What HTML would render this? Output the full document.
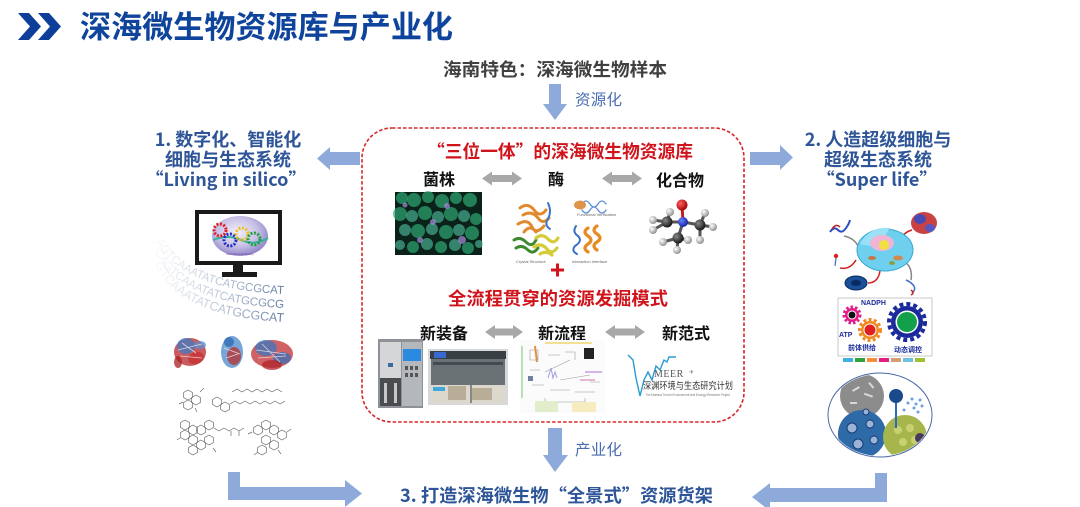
<!DOCTYPE html>
<html><head><meta charset="utf-8">
<style>
html,body{margin:0;padding:0;background:#fff;}
body{width:1080px;height:507px;overflow:hidden;}
svg{display:block;}
</style></head>
<body>
<svg width="1080" height="507" viewBox="0 0 1080 507" xmlns="http://www.w3.org/2000/svg" font-family="'Liberation Sans','Noto Sans CJK SC',sans-serif">
<defs>
  <polygon id="hx" points="0,-5 4.33,-2.5 4.33,2.5 0,5 -4.33,2.5 -4.33,-2.5" fill="none" stroke="#6a6a6a" stroke-width="0.7"/>
  <linearGradient id="dnag" gradientUnits="userSpaceOnUse" x1="160" y1="0" x2="285" y2="0">
    <stop offset="0" stop-color="#9fb0c8" stop-opacity="0.1"/>
    <stop offset="0.45" stop-color="#8a9fbc" stop-opacity="0.55"/>
    <stop offset="1" stop-color="#5f7aa0" stop-opacity="1"/>
  </linearGradient>
  <radialGradient id="ellg" cx="0.45" cy="0.4" r="0.6">
    <stop offset="0" stop-color="#f4f0fa"/>
    <stop offset="0.6" stop-color="#c8c0e6"/>
    <stop offset="1" stop-color="#8f86c8"/>
  </radialGradient>
  <radialGradient id="balC" cx="0.35" cy="0.35" r="0.7"><stop offset="0" stop-color="#8a8a8a"/><stop offset="1" stop-color="#111"/></radialGradient>
  <radialGradient id="balH" cx="0.35" cy="0.35" r="0.7"><stop offset="0" stop-color="#ffffff"/><stop offset="1" stop-color="#8c8c8c"/></radialGradient>
  <radialGradient id="balO" cx="0.35" cy="0.35" r="0.7"><stop offset="0" stop-color="#ff6060"/><stop offset="1" stop-color="#a00000"/></radialGradient>
  <radialGradient id="balN" cx="0.35" cy="0.35" r="0.7"><stop offset="0" stop-color="#6a80ff"/><stop offset="1" stop-color="#1020a0"/></radialGradient>
  <clipPath id="mclip"><ellipse cx="880" cy="415" rx="51" ry="41"/></clipPath>
  <path id="dp1" d="M155,240 Q180,290 284,294"/>
  <path id="dp2" d="M155,252 Q178,303 284,308"/>
  <path id="dp3" d="M155,264 Q176,316 284,322"/>
</defs>

<!-- Title -->
<polygon points="18,13 29,13 41,26.5 29,40 18,40 30,26.5" fill="#0d3f9a"/>
<polygon points="38,13 49,13 61,26.5 49,40 38,40 50,26.5" fill="#0d3f9a"/>
<text x="80" y="38" font-size="31" font-weight="bold" fill="#0f449c" font-family="'Noto Sans CJK SC',sans-serif" textLength="373" lengthAdjust="spacingAndGlyphs">深海微生物资源库与产业化</text>

<!-- top source -->
<text x="443" y="76" font-size="18" font-weight="bold" fill="#404040" font-family="'Noto Sans CJK SC',sans-serif" textLength="224" lengthAdjust="spacingAndGlyphs">海南特色：深海微生物样本</text>
<polygon points="549,84 561,84 561,104 567,104 555,120 543,104 549,104" fill="#8eaadb"/>
<text x="575" y="105" font-size="15.5" fill="#4a6db0" font-family="'Noto Sans CJK SC',sans-serif" textLength="47">资源化</text>

<!-- red dashed box -->
<rect x="362" y="128" width="382" height="294" rx="30" ry="30" fill="none" stroke="#d8262c" stroke-width="1.6" stroke-dasharray="3.5 2"/>

<text x="427" y="158" font-size="18" font-weight="bold" fill="#d0141c" font-family="'Noto Sans CJK SC',sans-serif" textLength="266" lengthAdjust="spacingAndGlyphs">“三位一体”的深海微生物资源库</text>

<text x="423" y="185" font-size="16" font-weight="bold" fill="#111" font-family="'Noto Sans CJK SC',sans-serif">菌株</text>
<text x="548" y="185" font-size="16" font-weight="bold" fill="#111" font-family="'Noto Sans CJK SC',sans-serif">酶</text>
<text x="656" y="186" font-size="16" font-weight="bold" fill="#111" font-family="'Noto Sans CJK SC',sans-serif">化合物</text>

<polygon points="482,178.5 492,171.5 492,175 512,175 512,171.5 522,178.5 512,185.5 512,182 492,182 492,185.5" fill="#a8a8a8"/>
<polygon points="602,178.5 612,171.5 612,175 632,175 632,171.5 642,178.5 632,185.5 632,182 612,182 612,185.5" fill="#a8a8a8"/>

<!-- green cells image -->
<rect x="395" y="192" width="87" height="63" fill="#0a2219"/>
<g fill="#2ea774" fill-opacity="0.7">
  <circle cx="402" cy="198" r="6"/><circle cx="414" cy="200" r="7"/><circle cx="428" cy="197" r="6"/><circle cx="442" cy="201" r="7"/><circle cx="456" cy="198" r="6"/><circle cx="470" cy="200" r="7"/>
  <circle cx="400" cy="214" r="7"/><circle cx="425" cy="213" r="7"/><circle cx="451" cy="214" r="7"/><circle cx="476" cy="219" r="6"/>
  <circle cx="418" cy="231" r="7"/><circle cx="446" cy="232" r="7"/><circle cx="472" cy="233" r="7"/>
  <circle cx="413" cy="247" r="6"/><circle cx="441" cy="247" r="6"/><circle cx="468" cy="248" r="6"/>
</g>
<g fill="#52c4a4" fill-opacity="0.6">
  <circle cx="412" cy="216" r="6"/><circle cx="438" cy="217" r="6"/><circle cx="464" cy="216" r="6"/>
  <circle cx="405" cy="230" r="6"/><circle cx="432" cy="229" r="6"/><circle cx="459" cy="230" r="6"/>
  <circle cx="400" cy="245" r="5"/><circle cx="427" cy="244" r="6"/><circle cx="455" cy="245" r="6"/><circle cx="479" cy="244" r="4"/>
</g>
<g fill="#a88ae0" fill-opacity="0.7">
  <circle cx="433" cy="222" r="3"/><circle cx="462" cy="240" r="4"/><circle cx="420" cy="240" r="3"/><circle cx="447" cy="206" r="3"/><circle cx="405" cy="205" r="2.5"/>
</g>

<!-- enzyme image -->
<g fill="none" stroke-linecap="round">
  <path d="M520,208 q8,-6 14,2 q6,8 12,0 M523,215 q9,-5 15,3 q5,7 11,0 M518,224 q10,-6 14,3 q4,8 12,-1 M524,232 q6,-8 12,0" stroke="#e08a2c" stroke-width="3"/>
  <path d="M548,203 q4,8 0,16 q-4,6 2,10" stroke="#3a78c8" stroke-width="2"/>
  <path d="M514,240 q6,-4 12,2 q6,6 10,-2 M516,248 q6,-4 12,2 q5,5 10,-2" stroke="#3f8a30" stroke-width="3"/>
  <path d="M536,238 q6,-5 12,1 q6,6 10,-1 M534,247 q7,-5 13,2 q5,6 10,-1 M540,254 q6,-4 12,1" stroke="#d6cc3a" stroke-width="3.2"/>
  <path d="M582,204 q4,-6 8,0 q4,6 8,0 q4,-6 8,0 M582,210 q4,6 8,0 q4,-6 8,0 q4,6 8,0" stroke="#5a8ed0" stroke-width="1.3"/>
  <path d="M588,228 q-6,4 0,8 q6,4 0,8 q-6,4 0,8 M597,226 q-6,4 0,8 q6,4 0,8 q-6,4 0,8" stroke="#e88a20" stroke-width="3.2"/>
  <path d="M576,226 q-4,6 2,10 q5,5 -3,10 q-4,5 2,8" stroke="#3a70c0" stroke-width="2"/>
</g>
<ellipse cx="580" cy="205" rx="6" ry="4.5" fill="#e0944a"/>
<text x="516" y="263" font-size="4" fill="#666">Crystal Structure</text>
<text x="577" y="216" font-size="4" fill="#666">Functional Verification</text>
<text x="572" y="263" font-size="4" fill="#666">Interaction Interface</text>

<!-- molecule -->
<g stroke="#555" stroke-width="3">
  <line x1="683" y1="222" x2="682" y2="205" stroke="#c02020"/>
  <line x1="683" y1="222" x2="667" y2="222"/><line x1="683" y1="222" x2="700" y2="225"/><line x1="683" y1="222" x2="678" y2="238"/>
  <line x1="667" y1="222" x2="653" y2="220"/><line x1="667" y1="222" x2="670" y2="212"/><line x1="667" y1="222" x2="653" y2="230"/>
  <line x1="678" y1="238" x2="663" y2="242"/><line x1="678" y1="238" x2="677" y2="250"/><line x1="678" y1="238" x2="688" y2="240"/>
  <line x1="700" y1="225" x2="705" y2="213"/><line x1="700" y1="225" x2="713" y2="227"/><line x1="700" y1="225" x2="700" y2="240"/>
</g>
<g>
  <circle cx="653" cy="220" r="4" fill="url(#balH)"/><circle cx="670" cy="212" r="4" fill="url(#balH)"/><circle cx="653" cy="230" r="4" fill="url(#balH)"/>
  <circle cx="705" cy="213" r="4" fill="url(#balH)"/><circle cx="713" cy="227" r="4" fill="url(#balH)"/>
  <circle cx="667" cy="222" r="5.5" fill="url(#balC)"/><circle cx="700" cy="225" r="5.5" fill="url(#balC)"/>
  <circle cx="683" cy="222" r="5" fill="url(#balN)"/>
  <circle cx="682" cy="205" r="5.5" fill="url(#balO)"/>
  <circle cx="700" cy="240" r="4" fill="url(#balH)"/><circle cx="688" cy="240" r="4" fill="url(#balH)"/>
  <circle cx="678" cy="238" r="5.5" fill="url(#balC)"/>
  <circle cx="663" cy="242" r="4" fill="url(#balH)"/><circle cx="677" cy="250" r="4" fill="url(#balH)"/>
</g>

<!-- plus -->
<path d="M551,270 h13 M557.5,263.5 v13" stroke="#d0141c" stroke-width="3"/>
<text x="448" y="305" font-size="18" font-weight="bold" fill="#d0141c" font-family="'Noto Sans CJK SC',sans-serif" textLength="220" lengthAdjust="spacingAndGlyphs">全流程贯穿的资源发掘模式</text>

<text x="420" y="339" font-size="16" font-weight="bold" fill="#111" font-family="'Noto Sans CJK SC',sans-serif">新装备</text>
<text x="538" y="339" font-size="16" font-weight="bold" fill="#111" font-family="'Noto Sans CJK SC',sans-serif">新流程</text>
<text x="662" y="339" font-size="16" font-weight="bold" fill="#111" font-family="'Noto Sans CJK SC',sans-serif">新范式</text>
<polygon points="485,332 495,325 495,328.5 513,328.5 513,325 523,332 513,339 513,335.5 495,335.5 495,339" fill="#a8a8a8"/>
<polygon points="605,332 615,325 615,328.5 635,328.5 635,325 645,332 635,339 635,335.5 615,335.5 615,339" fill="#a8a8a8"/>

<!-- equipment 1 -->
<rect x="378" y="339" width="45" height="69" fill="#8e9296"/>
<rect x="380" y="342" width="21" height="36" fill="#d4d6d8"/>
<rect x="380" y="378" width="21" height="28" fill="#4a4d50"/>
<rect x="384" y="383" width="3" height="20" fill="#c8c8c8"/><rect x="394" y="383" width="3" height="20" fill="#c8c8c8"/>
<rect x="388" y="363" width="5" height="4" fill="#3a6aa0"/>
<rect x="402" y="342" width="20" height="64" fill="#b4b8bc"/>
<rect x="403" y="349" width="18" height="12" fill="#2a8ae0"/>
<g fill="#555"><rect x="405" y="366" width="3" height="4"/><rect x="410" y="366" width="3" height="4"/><rect x="415" y="366" width="3" height="4"/><rect x="405" y="373" width="3" height="4"/><rect x="410" y="373" width="3" height="4"/><rect x="415" y="373" width="3" height="4"/></g>

<!-- equipment 2 -->
<rect x="428" y="349" width="80" height="56" fill="#d6d8da"/>
<rect x="430" y="351" width="76" height="8" fill="#3a3f44"/>
<rect x="434" y="352" width="12" height="6" fill="#3a6ad0"/>
<rect x="431" y="359" width="74" height="26" fill="#6a7276"/>
<rect x="433" y="362" width="70" height="3" fill="#444b50"/>
<rect x="431" y="385" width="74" height="18" fill="#dcd8cc"/>
<rect x="433" y="387" width="12" height="4" fill="#40a8e0"/>
<g fill="#b8ae98"><rect x="448" y="386" width="18" height="14"/><rect x="472" y="388" width="20" height="12"/></g>
<rect x="470" y="385" width="2" height="18" fill="#888"/>

<!-- flowchart -->
<rect x="520" y="340" width="85" height="73" fill="#fbfbfb"/>
<g stroke="#9a9a9a" stroke-width="0.6" fill="none">
  <line x1="522" y1="346" x2="522" y2="398" stroke="#7ac070" stroke-width="1"/>
  <line x1="545" y1="343" x2="592" y2="343" stroke="#f0d870" stroke-width="1.5"/>
  <path d="M530,350 h8 v10 h-8z M548,355 h12 M565,352 h10 v8 M530,370 h10 M545,372 l25,-12 M560,380 l30,-5 M532,385 h12 M550,390 h20 M575,392 h20 M590,382 h10 M545,398 v4 h40 v-4"/>
  <rect x="584" y="348" width="10" height="11" fill="#222" stroke="none"/>
  <line x1="585" y1="372" x2="602" y2="372" stroke="#c0a0e0" stroke-width="1.5"/>
  <line x1="580" y1="380" x2="595" y2="380" stroke="#e0a0c0" stroke-width="1.5"/>
  <line x1="535" y1="346" x2="537" y2="362" stroke="#e09040" stroke-width="2"/>
</g>
<rect x="535" y="401" width="23" height="11" fill="#e2edcc"/>
<rect x="572" y="402" width="24" height="10" fill="#f6ecc0"/>
<path d="M548,378 l3,-10 l2,10 l2,-6 l2,6" stroke="#a0a0e0" fill="none" stroke-width="1"/>
<rect x="528" y="376" width="5" height="5" fill="#7080a0"/>

<!-- MEER logo -->
<path d="M628,355 L633,360 L636,378 L640,396 L644,380 L648,372 L652,380 L656,366 L660,370 L664,360 L667,362 L669,357 L676,357" fill="none" stroke="#2a9ad0" stroke-width="1.4"/>
<text x="654" y="377" font-size="10" fill="#555" font-family="'Liberation Serif',serif" letter-spacing="0.5">MEER</text>
<text x="689" y="374" font-size="6" fill="#777">✈</text>
<text x="643" y="389" font-size="9.5" fill="#333" font-family="'Noto Sans CJK SC',sans-serif" textLength="90" lengthAdjust="spacingAndGlyphs">深渊环境与生态研究计划</text>
<text x="645" y="396" font-size="3.5" fill="#888" textLength="85">The Mariana Trench Environment and Ecology Research Project</text>

<!-- bottom down arrow -->
<polygon points="548,428 562,428 562,455 568,455 555,472 543,455 548,455" fill="#8eaadb"/>
<text x="575" y="455" font-size="15.5" fill="#4a6db0" font-family="'Noto Sans CJK SC',sans-serif" textLength="47">产业化</text>

<text x="400" y="502" font-size="18" font-weight="bold" fill="#2e5597" font-family="'Noto Sans CJK SC',sans-serif" textLength="313" lengthAdjust="spacingAndGlyphs">3. 打造深海微生物“全景式”资源货架</text>

<!-- left heading -->
<g font-size="18" font-weight="bold" fill="#2e5597" text-anchor="middle" font-family="'Noto Sans CJK SC',sans-serif">
  <text x="228" y="146">1. 数字化、智能化</text>
  <text x="228" y="166">细胞与生态系统</text>
  <text x="226" y="186">“Living in silico”</text>
</g>
<polygon points="317,158.5 330,147 330,152 360,152 360,165 330,165 330,170" fill="#8eaadb"/>

<!-- monitor -->
<rect x="195" y="210" width="87" height="55" fill="#1a1a1a"/>
<rect x="199" y="214" width="79" height="47" fill="#fff"/>
<ellipse cx="240" cy="236" rx="28" ry="20" fill="url(#ellg)"/>
<path d="M213,240 q15,-6 28,0 q14,6 27,-2" stroke="#3ab0a0" stroke-width="2" fill="none"/>
<g stroke-dasharray="2 1.5" fill="none">
  <circle cx="220" cy="230" r="6" stroke="#e02020" stroke-width="3"/>
  <circle cx="230" cy="240" r="6" stroke="#2030c0" stroke-width="3"/>
  <circle cx="242" cy="234" r="6" stroke="#e8c020" stroke-width="3"/>
  <circle cx="254" cy="239" r="6" stroke="#20a040" stroke-width="3"/>
</g>
<text x="240" y="255" font-size="3" fill="#8040a0" text-anchor="middle">Microbial cell factory</text>
<rect x="233" y="265" width="10" height="8" fill="#1a1a1a"/>
<rect x="222" y="272" width="35" height="5" fill="#1a1a1a"/>

<!-- DNA text -->
<g font-size="11.5" fill="url(#dnag)" font-family="'Liberation Sans Narrow','Liberation Sans',sans-serif" text-anchor="end">
  <text><textPath href="#dp1" startOffset="100%">GTCAAATATCAGTCAAATATCATGCGCAT</textPath></text>
  <text><textPath href="#dp2" startOffset="100%">AGTCAAATATCAGTCAAATATCATGCGCG</textPath></text>
  <text font-size="12.5"><textPath href="#dp3" startOffset="100%">GTCAAATATCAAGTCAAATATCATGCGCAT</textPath></text>
</g>

<!-- proteins -->
<g fill-opacity="0.75">
  <ellipse cx="190" cy="352" rx="16" ry="14" fill="#b8262c"/>
  <ellipse cx="186" cy="346" rx="9" ry="8" fill="#3c7cc4"/>
  <ellipse cx="196" cy="358" rx="8" ry="6" fill="#c43030" transform="rotate(-20 196 358)"/>
  <ellipse cx="200" cy="345" rx="6" ry="4" fill="#5a90d0"/>
  <ellipse cx="178" cy="362" rx="4" ry="6" fill="#a82020"/>
  <ellipse cx="232" cy="352" rx="11" ry="16" fill="#4a88cc"/>
  <ellipse cx="234" cy="356" rx="7" ry="9" fill="#b83030"/>
  <ellipse cx="229" cy="342" rx="5" ry="5" fill="#2e6ab0"/>
  <ellipse cx="272" cy="354" rx="21" ry="14" fill="#c02c30"/>
  <ellipse cx="266" cy="348" rx="11" ry="8" fill="#3c78c0"/>
  <ellipse cx="282" cy="358" rx="9" ry="6" fill="#3a70b8"/>
  <ellipse cx="272" cy="365" rx="10" ry="5" fill="#b02428"/>
</g>
<g stroke="#fff" stroke-width="0.8" fill="none" opacity="0.7">
  <path d="M178,350 l24,-6 M180,356 l22,2 M182,343 l14,10 M224,348 l16,6 M226,358 l12,-4 M256,350 l30,4 M258,358 l28,-2 M262,344 l18,18"/>
</g>

<!-- chemical structures -->
<g stroke="#6a6a6a" stroke-width="0.7" fill="none">
  <use href="#hx" x="188" y="395"/><use href="#hx" x="196" y="400"/><use href="#hx" x="188" y="405"/>
  <path d="M200,392 l4,-4 M183,402 l-4,2 M195,408 l2,4"/>
  <path d="M232,392 l5,-3 l5,3 l5,-3 l5,3 l5,-3 l5,3 l5,-3 l5,3 l5,-3 l5,3"/>
  <use href="#hx" x="217" y="402"/><use href="#hx" x="225" y="407"/>
  <path d="M230,404 l5,-3 l5,3 l5,-3 l5,3 l5,-3 l5,3 l5,-3 l5,3 l5,-3 l5,3 l5,-3"/>
  <use href="#hx" x="185" y="425"/><use href="#hx" x="193" y="430"/><use href="#hx" x="185" y="435"/>
  <use href="#hx" x="193" y="440"/><use href="#hx" x="201" y="445"/><use href="#hx" x="209" y="440"/>
  <use href="#hx" x="201" y="430"/><use href="#hx" x="209" y="425"/><use href="#hx" x="193" y="450"/>
  <path d="M214,428 l5,3 l5,-3 l5,3 l5,-3 l5,3 l5,-3 M231,431 v5 M239,431 v5 M180,438 l-3,2 M213,448 l3,4"/>
  <use href="#hx" x="258" y="430"/><use href="#hx" x="266" y="425"/><use href="#hx" x="274" y="430"/>
  <use href="#hx" x="266" y="440"/><use href="#hx" x="282" y="435"/><use href="#hx" x="274" y="445"/><use href="#hx" x="262" y="450"/>
  <path d="M252,432 l-4,2 M287,432 l4,-3 M278,450 l3,4 M258,452 l-4,3"/>
</g>

<!-- bottom-left L arrow -->
<polygon points="228,472 240,472 240,487 345,487 345,480 362,493.5 345,507 345,500 228,500" fill="#8eaadb"/>

<!-- right heading -->
<g font-size="18" font-weight="bold" fill="#2e5597" text-anchor="middle" font-family="'Noto Sans CJK SC',sans-serif">
  <text x="878" y="146">2. 人造超级细胞与</text>
  <text x="878" y="166">超级生态系统</text>
  <text x="877" y="186">“Super life”</text>
</g>
<polygon points="750,152 780,152 780,145 793,157.5 780,170 780,165 750,165" fill="#8eaadb"/>

<!-- cell image -->
<g fill="none" stroke-width="1.5">
  <path d="M844,236 q10,2 14,10" stroke="#888"/>
  <path d="M912,230 q-8,2 -12,10" stroke="#d02020"/>
  <path d="M840,268 q10,2 16,-8" stroke="#d02020"/>
  <path d="M868,283 q10,0 12,-12" stroke="#d02020"/>
  <path d="M905,262 q8,6 6,18" stroke="#888"/>
</g>
<ellipse cx="885" cy="250" rx="28" ry="21" fill="#6ed0ee" stroke="#38a8d0" stroke-width="1"/>
<path d="M860,244 q10,-18 30,-16 q-6,8 -10,20z" fill="#9ae0f6"/>
<ellipse cx="882" cy="243" rx="12" ry="8" fill="#f0b4d4"/>
<circle cx="884" cy="245" r="5" fill="#f2e040"/>
<ellipse cx="898" cy="258" rx="5" ry="2.5" fill="#d08a50"/>
<ellipse cx="872" cy="258" rx="4" ry="2" fill="#c07a4a"/>
<ellipse cx="892" cy="263" rx="3" ry="2" fill="#8aa040"/>
<g fill-opacity="0.9">
  <ellipse cx="924" cy="223" rx="13" ry="11" fill="#c42c30"/>
  <ellipse cx="920" cy="219" rx="6" ry="5" fill="#3a4ac0"/>
  <ellipse cx="930" cy="228" rx="5" ry="4" fill="#4a5ad0"/>
</g>
<path d="M830,232 q4,-6 8,-2 q4,4 8,-2 q3,-4 4,-8" stroke="#3050c0" stroke-width="2" fill="none"/>
<path d="M832,229 q4,-6 8,-2" stroke="#c02020" stroke-width="1.5" fill="none"/>
<circle cx="836" cy="256" r="2.2" fill="#e02020"/>
<path d="M836,258 l-1,8" stroke="#4070d0" stroke-width="1.2"/>
<ellipse cx="856" cy="283" rx="11" ry="7" fill="#1a4f9a" stroke="#0a2a5a" stroke-width="1"/>
<ellipse cx="856" cy="283" rx="5" ry="3" fill="#0a2a60"/>
<path d="M906,280 q5,2 8,6 q2,4 -2,7" stroke="#4070d0" stroke-width="1.5" fill="none"/>
<path d="M911,290 q4,3 0,5" stroke="#d02020" stroke-width="1.5" fill="none"/>

<!-- NADPH panel -->
<rect x="838" y="298" width="94" height="58" fill="#fff" stroke="#c8c8c8" stroke-width="1"/>
<circle cx="852" cy="315" r="7" fill="#e0208a"/>
<circle cx="852" cy="315" r="8" fill="none" stroke="#e0208a" stroke-width="3" stroke-dasharray="2.5 2"/>
<circle cx="852" cy="315" r="4.5" fill="#fff"/><circle cx="852" cy="315" r="3.5" fill="#111"/>
<circle cx="870" cy="330" r="9" fill="#f08a20"/>
<circle cx="870" cy="330" r="10.5" fill="none" stroke="#f08a20" stroke-width="3" stroke-dasharray="3 2.3"/>
<circle cx="870" cy="330" r="6.5" fill="#fff"/><circle cx="870" cy="330" r="5.5" fill="#e02020"/>
<circle cx="907" cy="322" r="16" fill="#1a2a9a"/>
<circle cx="907" cy="322" r="18" fill="none" stroke="#1a2a9a" stroke-width="4" stroke-dasharray="4 3"/>
<circle cx="907" cy="322" r="11.5" fill="#fff"/><circle cx="907" cy="322" r="10" fill="#12a04a"/>
<text x="861" y="305" font-size="7" font-weight="bold" fill="#1a2a9a">NADPH</text>
<text x="839" y="337" font-size="7" font-weight="bold" fill="#1a2a9a">ATP</text>
<text x="848" y="350" font-size="7" font-weight="bold" fill="#1a2a9a" font-family="'Noto Sans CJK SC',sans-serif">前体供给</text>
<text x="894" y="352" font-size="7" font-weight="bold" fill="#1a2a9a" font-family="'Noto Sans CJK SC',sans-serif">动态调控</text>
<g>
  <rect x="843" y="358" width="10" height="4" fill="#40b0e0"/><rect x="855" y="358" width="10" height="4" fill="#30a040"/>
  <rect x="867" y="358" width="10" height="4" fill="#f09030"/><rect x="879" y="358" width="10" height="4" fill="#e02080"/>
  <rect x="891" y="358" width="10" height="4" fill="#d0a070"/><rect x="903" y="358" width="10" height="4" fill="#70c0e0"/>
  <rect x="915" y="358" width="10" height="4" fill="#a0c030"/>
</g>

<!-- microbes ellipse -->
<ellipse cx="880" cy="415" rx="52" ry="42" fill="#fff" stroke="#4a66a8" stroke-width="1"/>
<g clip-path="url(#mclip)">
  <circle cx="862" cy="396" r="22" fill="#8c8c8c"/>
  <g fill="#d8d8d8"><rect x="852" y="388" width="8" height="2" transform="rotate(-30 856 389)"/><rect x="864" y="394" width="9" height="2" transform="rotate(20 868 395)"/><rect x="850" y="402" width="7" height="2"/><rect x="868" y="384" width="7" height="2" transform="rotate(50 871 385)"/></g>
  <circle cx="862" cy="434" r="24" fill="#2e6aa8"/>
  <g fill="#9ab4d8" stroke="#1a3a70" stroke-width="1"><circle cx="852" cy="428" r="5"/><circle cx="870" cy="424" r="4"/><circle cx="858" cy="444" r="5"/><circle cx="874" cy="440" r="4"/><circle cx="866" cy="412" r="3"/></g>
  <circle cx="905" cy="437" r="22" fill="#a6b64c"/>
  <g fill="#c8d070"><circle cx="898" cy="430" r="4"/><circle cx="910" cy="428" r="4"/><circle cx="903" cy="442" r="4"/><circle cx="915" cy="440" r="4"/></g>
  <circle cx="920" cy="438" r="5" fill="#4a3a5a"/>
  <path d="M896,400 v28" stroke="#2a6ac0" stroke-width="2"/>
  <circle cx="896" cy="396" r="7" fill="#1a4a8a"/>
  <g fill="#6aa0e0"><circle cx="908" cy="403" r="1.5"/><circle cx="912" cy="399" r="1.5"/><circle cx="916" cy="404" r="1.5"/><circle cx="920" cy="400" r="1.5"/><circle cx="914" cy="408" r="1.5"/><circle cx="922" cy="406" r="1.5"/><circle cx="904" cy="410" r="1.5"/><circle cx="918" cy="412" r="1.5"/></g>
</g>

<!-- bottom-right L arrow -->
<polygon points="875,473 887,473 887,502 770,502 770,511 752,497 770,483 770,488 875,488" fill="#8eaadb"/>
</svg>
</body></html>
